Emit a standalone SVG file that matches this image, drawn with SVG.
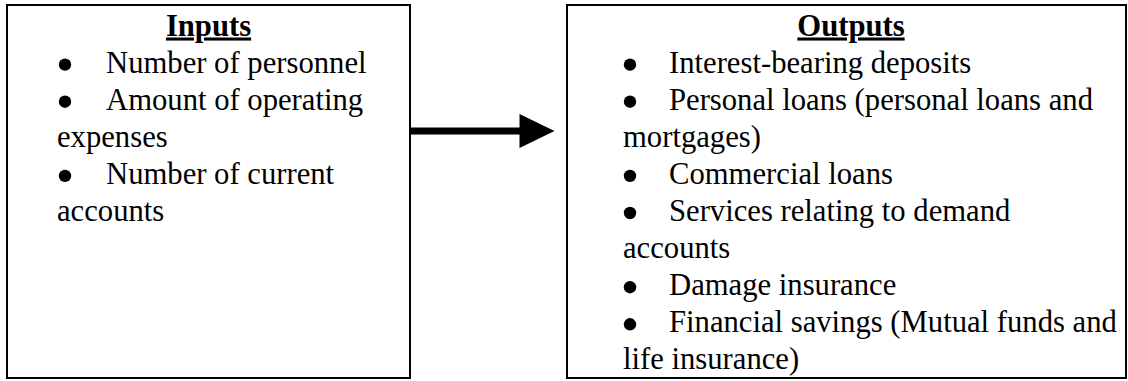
<svg xmlns="http://www.w3.org/2000/svg" width="1128" height="381" viewBox="0 0 1128 381">
<style>
.box{fill:#fff;stroke:#000;stroke-width:2}
text{font-family:"Liberation Serif","Times New Roman",serif;font-size:30.67px;fill:#000}
.h{font-weight:bold;text-decoration:underline;text-anchor:middle}
</style>
<defs>
<circle id="dot" r="6.2" fill="#000"/>
</defs>
<rect width="1128" height="381" fill="#fff"/>
<g id="inputs">
<rect class="box" x="7" y="5" width="403" height="373"/>
<text class="h" x="208.5" y="35.5">Inputs</text>
<use href="#dot" x="65" y="64.6"/><text x="106" y="72.6">Number of personnel</text>
<use href="#dot" x="65" y="101.7"/><text x="106" y="109.7">Amount of operating</text>
<text x="57" y="146.8">expenses</text>
<use href="#dot" x="65" y="175.9"/><text x="106" y="183.9">Number of current</text>
<text x="57" y="221">accounts</text>
</g>
<g id="connectors">
<rect x="411" y="127.5" width="110" height="7" fill="#000"/>
<polygon points="519.5,114 554.5,131 519.5,148" fill="#000"/>
</g>
<g id="outputs">
<rect class="box" x="567" y="5" width="559" height="373"/>
<text class="h" x="851" y="35.5">Outputs</text>
<use href="#dot" x="630" y="64.6"/><text x="669" y="72.6">Interest-bearing deposits</text>
<use href="#dot" x="630" y="101.7"/><text x="669" y="109.7">Personal loans (personal loans and</text>
<text x="623" y="146.8">mortgages)</text>
<use href="#dot" x="630" y="175.9"/><text x="669" y="183.9">Commercial loans</text>
<use href="#dot" x="630" y="213"/><text x="669" y="221">Services relating to demand</text>
<text x="623" y="258.1">accounts</text>
<use href="#dot" x="630" y="287.2"/><text x="669" y="295.2">Damage insurance</text>
<use href="#dot" x="630" y="324.3"/><text x="669" y="332.3">Financial savings (Mutual funds and</text>
<text x="623" y="369.4">life insurance)</text>
</g>
</svg>
